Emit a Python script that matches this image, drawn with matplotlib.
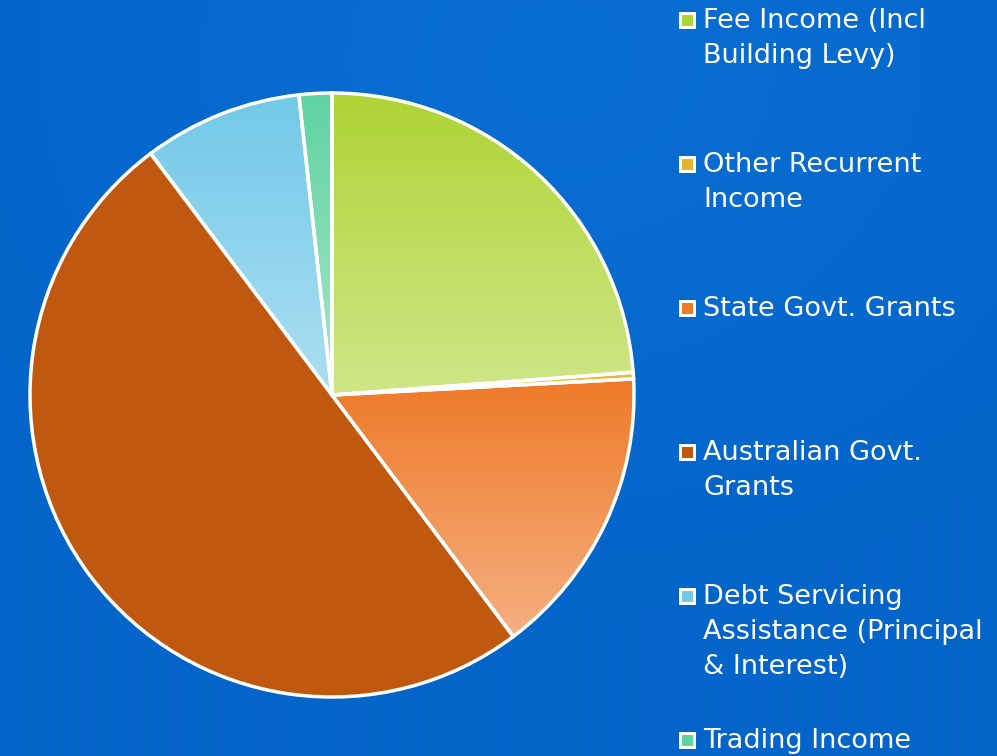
import numpy as np
import matplotlib
matplotlib.use("Agg")
import matplotlib.pyplot as plt
from matplotlib.colors import LinearSegmentedColormap, to_rgb
from matplotlib.patches import Rectangle

labels = ["Fee Income (Incl\nBuilding Levy)", "Other Recurrent\nIncome", "State Govt. Grants",
          "Australian Govt.\nGrants", "Debt Servicing\nAssistance (Principal\n& Interest)", "Trading Income"]
values = [23.8, 0.35, 15.6, 50.0, 8.5, 1.75]
top_colors = ["#aed435", "#e8b42a", "#ee7a28", "#c0590f", "#72c9e8", "#5fd3a0"]
bottom_colors = ["#cfe688", "#f0c860", "#f5b082", "#c0590f", "#acdff2", "#a8e6cc"]

W, H = 997, 756
fig = plt.figure(figsize=(W / 100, H / 100), dpi=100)

# background
bg = fig.add_axes([0, 0, 1, 1])
yy, xx = np.mgrid[0:H, 0:W]
d = np.sqrt(((xx - 560) / 650.0) ** 2 + ((yy - 60) / 550.0) ** 2)
t = np.clip(d, 0, 1)[..., None]
c1 = np.array(to_rgb("#096ed3"))
c2 = np.array(to_rgb("#0465c9"))
bg.imshow(c1 * (1 - t) + c2 * t, aspect="auto", extent=[0, 1, 0, 1], origin="upper")
bg.set_axis_off()

ax = fig.add_axes([30 / W, (H - 697) / H, 604 / W, 604 / H])
wedges, _ = ax.pie(values, startangle=90, counterclock=False, radius=1,
                   colors=top_colors, wedgeprops=dict(edgecolor="none", linewidth=0))
ax.set_xlim(-1.0, 1.0)
ax.set_ylim(-1.0, 1.0)
ax.set_aspect("equal")
ax.set_axis_off()

for w, ct, cb in zip(wedges, top_colors, bottom_colors):
    path = w.get_path()
    verts = w.get_transform().transform(path.vertices)
    verts = ax.transData.inverted().transform(verts)
    x0, x1 = verts[:, 0].min(), verts[:, 0].max()
    y0, y1 = verts[:, 1].min(), verts[:, 1].max()
    cmap = LinearSegmentedColormap.from_list("g", [cb, ct])
    grad = np.linspace(0, 1, 256)[:, None]
    im = ax.imshow(grad, cmap=cmap, extent=[x0, x1, y0, y1], origin="lower",
                   aspect="auto", zorder=2)
    im.set_clip_path(w)
    w.set_facecolor("none")

# white edges on top
edges, _ = ax.pie(values, startangle=90, counterclock=False, radius=1,
                  wedgeprops=dict(facecolor="none", edgecolor="white", linewidth=2.5))
for e in edges:
    e.set_zorder(5)
    e.set_clip_on(False)
ax.set_xlim(-1.0, 1.0)
ax.set_ylim(-1.0, 1.0)

# legend (manual)
line_h = 35
for i, (lab, ct, cb) in enumerate(zip(labels, top_colors, bottom_colors)):
    yc = 21 + 144 * i
    fig.patches.append(Rectangle((679 / W, 1 - (yc + 8) / H), 17 / W, 17 / H,
                                 transform=fig.transFigure, facecolor="white",
                                 edgecolor="none", zorder=10))
    fig.patches.append(Rectangle((682 / W, 1 - (yc + 5) / H), 11 / W, 11 / H,
                                 transform=fig.transFigure, facecolor=ct,
                                 edgecolor="none", zorder=11))
    for j, ln in enumerate(lab.split("\n")):
        fig.text(703 / W, 1 - (yc + j * line_h) / H, ln, color="white",
                 fontsize=19.5, va="center", ha="left", family="DejaVu Sans")

fig.savefig("out.png", dpi=100)
